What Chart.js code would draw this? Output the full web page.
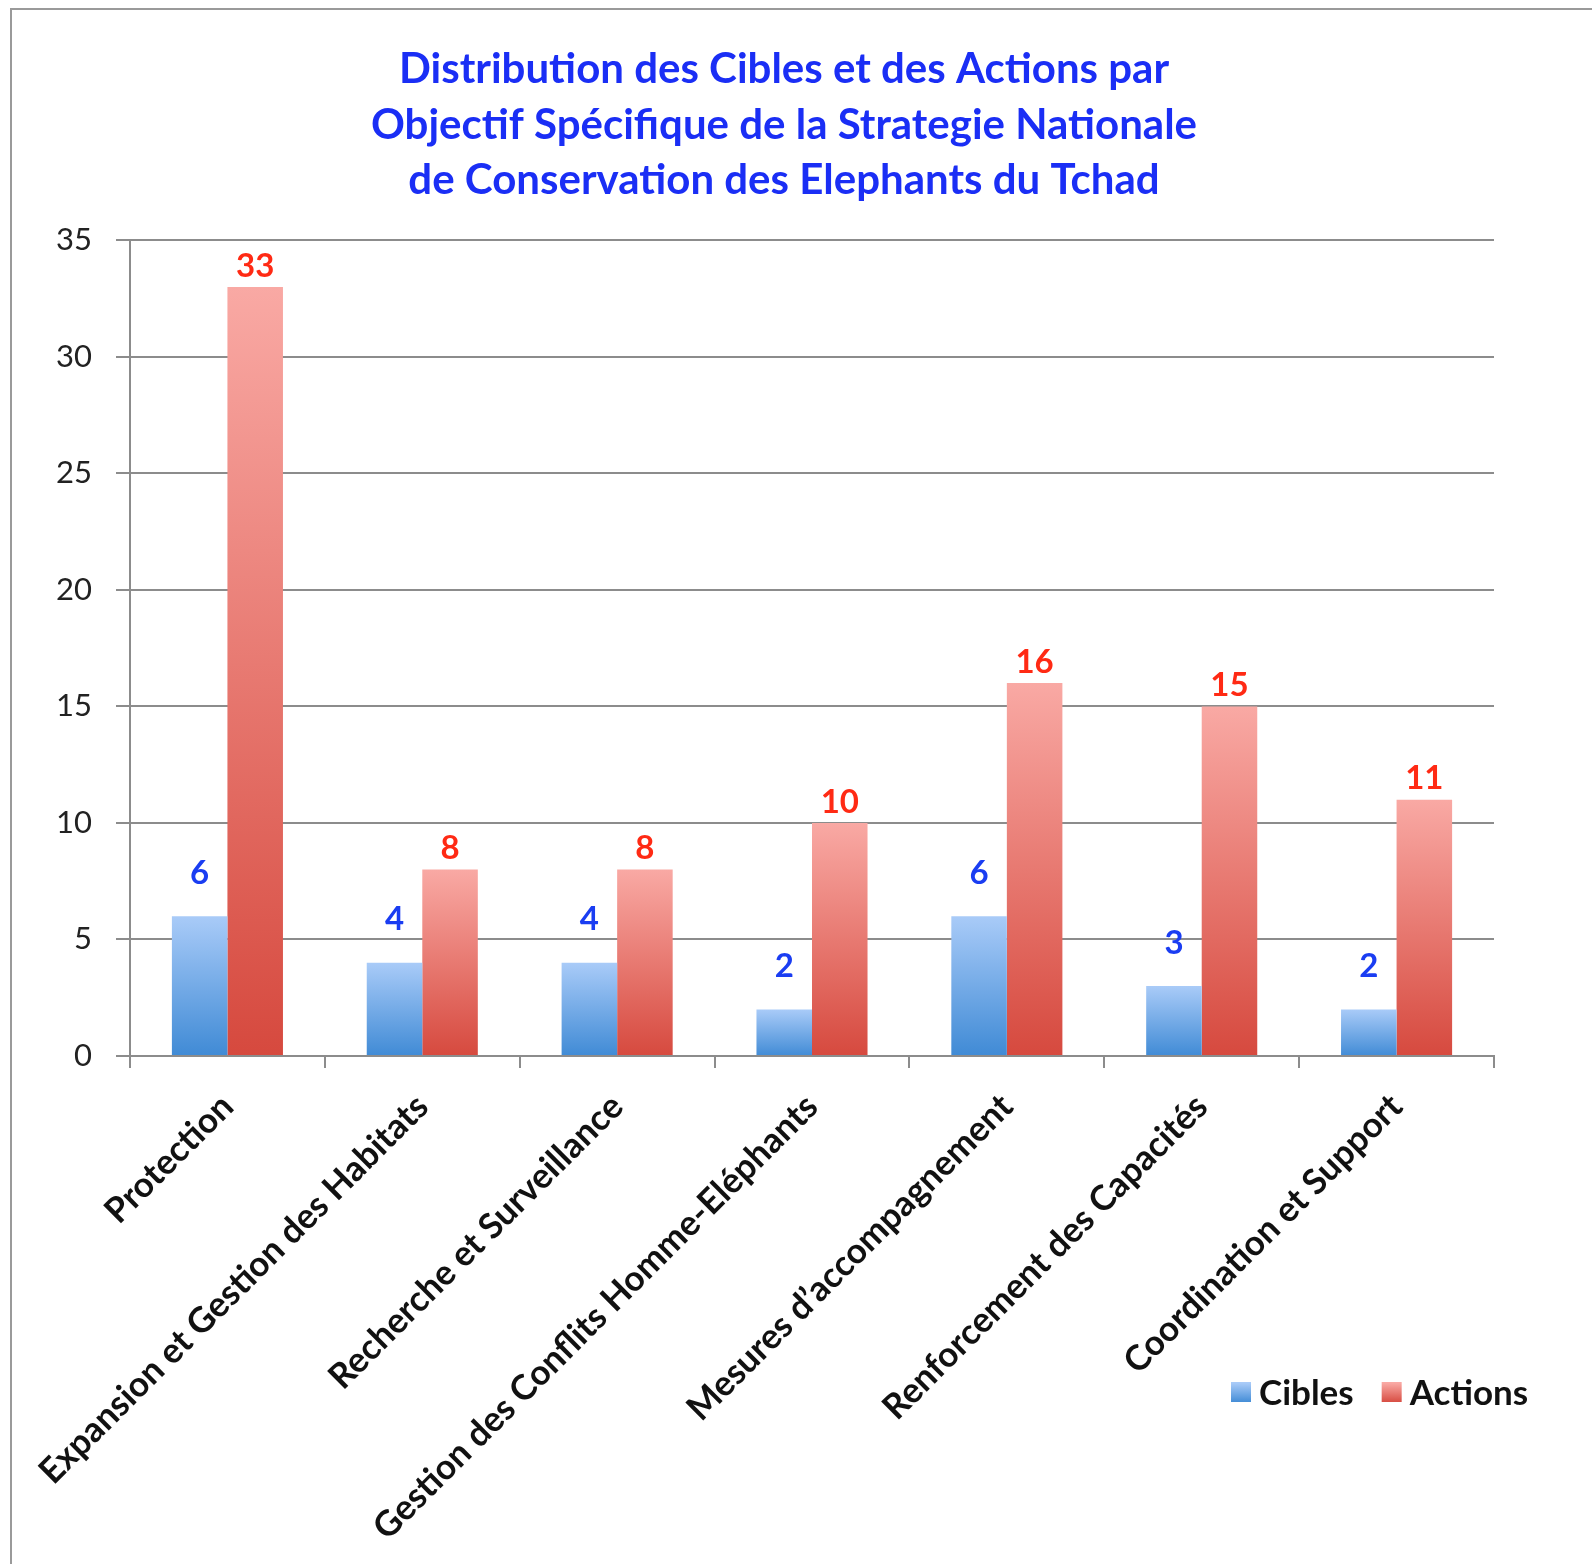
<!DOCTYPE html>
<html>
<head>
<meta charset="utf-8">
<script src="https://cdn.jsdelivr.net/npm/chart.js@4.4.1/dist/chart.umd.min.js"></script>
<style>
  html, body { margin: 0; padding: 0; background: #fff; overflow: hidden; }
  #frame { position: absolute; left: 10px; top: 8px; width: 1620px; height: 1620px; border: 2px solid #9a9a9a; }
  #wrap { position: absolute; left: 0; top: 0; width: 1592px; height: 1564px; }
</style>
</head>
<body>
<div id="frame"></div>
<div id="wrap"><canvas id="chart" width="1592" height="1564"></canvas></div>
<script>
const categories = [
  'Protection',
  'Expansion et Gestion des Habitats',
  'Recherche et Surveillance',
  'Gestion des Conflits Homme-Eléphants',
  'Mesures d\u2019accompagnement',
  'Renforcement des Capacités',
  'Coordination et Support'
];
const cibles = [6, 4, 4, 2, 6, 3, 2];
const actions = [33, 8, 8, 10, 16, 15, 11];
const yTicks = [0, 5, 10, 15, 20, 25, 30, 35];

const titleLines = [
  'Distribution des Cibles et des Actions par',
  'Objectif Spécifique de la Strategie Nationale',
  'de Conservation des Elephants du Tchad'
];

const FONT = 'Lato, "Open Sans", sans-serif';

// vertical gradient per bar, light at the top, deep at the base
function gradientFill(light, deep) {
  return function (c) {
    const chart = c.chart;
    if (!chart.chartArea || c.raw == null) return deep;
    const y = chart.scales.y;
    const top = y.getPixelForValue(c.raw);
    const base = y.getPixelForValue(0);
    const g = chart.ctx.createLinearGradient(0, top, 0, base + 1);
    g.addColorStop(0, light);
    g.addColorStop(1, deep);
    return g;
  };
}

const valueLabels = {
  id: 'valueLabels',
  afterDatasetsDraw(chart) {
    const ctx = chart.ctx;
    ctx.save();
    ctx.font = 'bold 33px ' + FONT;
    ctx.textAlign = 'center';
    ctx.textBaseline = 'middle';
    chart.data.datasets.forEach((ds, i) => {
      const meta = chart.getDatasetMeta(i);
      meta.data.forEach((bar, j) => {
        ctx.fillStyle = ds.labelColor;
        ctx.fillText(ds.data[j], bar.x, bar.y - ds.labelOffset);
      });
    });
    ctx.restore();
  }
};

const sideLegend = {
  id: 'sideLegend',
  afterDraw(chart) {
    const ctx = chart.ctx;
    const area = chart.chartArea;
    let x = area.right - 263;
    const y = area.bottom + 337;
    ctx.save();
    ctx.font = 'bold 35px ' + FONT;
    ctx.textBaseline = 'middle';
    chart.data.datasets.forEach(ds => {
      const g = ctx.createLinearGradient(0, y - 10, 0, y + 10);
      g.addColorStop(0, ds.legendLight);
      g.addColorStop(1, ds.legendDeep);
      ctx.fillStyle = g;
      ctx.fillRect(x, y - 11, 20, 20);
      ctx.fillStyle = '#111';
      ctx.fillText(ds.label, x + 28, y + 1);
      x += 28 + ctx.measureText(ds.label).width + 28;
    });
    ctx.restore();
  }
};

new Chart(document.getElementById('chart'), {
  type: 'bar',
  data: {
    labels: categories,
    datasets: [
      {
        label: 'Cibles',
        data: cibles,
        backgroundColor: gradientFill('#a9cbf8', '#3f8ad5'),
        legendLight: '#a9cbf8', legendDeep: '#3f8ad5',
        labelColor: '#1a3df2',
        labelOffset: 43
      },
      {
        label: 'Actions',
        data: actions,
        backgroundColor: gradientFill('#f9a9a4', '#d6493e'),
        legendLight: '#f9a9a4', legendDeep: '#d6493e',
        labelColor: '#ff2a14',
        labelOffset: 21
      }
    ]
  },
  options: {
    responsive: false,
    animation: false,
    devicePixelRatio: 1,
    layout: { padding: { left: 0, right: 24, top: 0, bottom: 0 } },
    datasets: {
      bar: { categoryPercentage: 0.57, barPercentage: 1.0, borderWidth: 0 }
    },
    plugins: {
      legend: { display: false },
      tooltip: { enabled: false },
      title: {
        display: true,
        text: titleLines,
        color: '#1a2ef5',
        font: { family: FONT, size: 42, weight: 'bold', lineHeight: 1.32 },
        padding: { top: 42, bottom: 32 }
      }
    },
    scales: {
      x: {
        grid: {
          offset: true,
          drawOnChartArea: false,
          drawTicks: true,
          tickLength: 12,
          color: '#8c8c8c',
          lineWidth: 2
        },
        border: { display: true, color: '#8c8c8c', width: 2 },
        ticks: {
          maxRotation: 45,
          minRotation: 45,
          autoSkip: false,
          padding: 18,
          color: '#111',
          font: { family: FONT, size: 35, weight: 'bold' }
        },
        afterFit(scale) { scale.height = 508; }
      },
      y: {
        min: 0,
        max: 35,
        afterBuildTicks(scale) { scale.ticks = yTicks.map(v => ({ value: v })); },
        grid: { color: '#8c8c8c', lineWidth: 2, tickLength: 14, drawTicks: true },
        border: { display: true, color: '#8c8c8c', width: 2 },
        ticks: {
          padding: 24,
          color: '#222',
          font: { family: FONT, size: 31 }
        },
        afterFit(scale) { scale.width = 130; }
      },
      // empty right-hand spacer so the title stays centred on the page
      spacer: {
        type: 'linear',
        position: 'right',
        display: true,
        grid: { display: false, drawTicks: false },
        border: { display: false },
        ticks: { display: false },
        afterFit(scale) { scale.width = 74; }
      }
    }
  },
  plugins: [valueLabels, sideLegend]
});
</script>
</body>
</html>
